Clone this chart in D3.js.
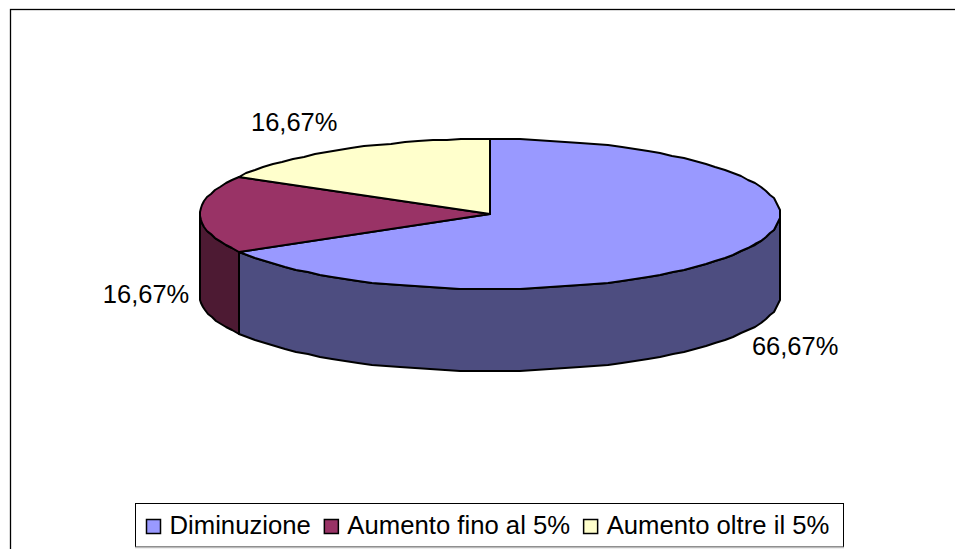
<!DOCTYPE html>
<html>
<head>
<meta charset="utf-8">
<script src="https://cdnjs.cloudflare.com/ajax/libs/d3/7.8.5/d3.min.js"></script>
<style>
    html, body { margin: 0; padding: 0; background: #fff; }
    svg { display: block; }
    text { font-family: "Liberation Sans", Arial, sans-serif; fill: #000; }
</style>
</head>
<body>
<div id="chart"></div>
<script>
var categories = ["Diminuzione", "Aumento fino al 5%", "Aumento oltre il 5%"];
var values = [66.67, 16.67, 16.67];
var valueLabels = ["66,67%", "16,67%", "16,67%"];
var topColors = ["#9999ff", "#993366", "#ffffcc"];
var sideColors = ["#4d4d80", "#4d1a33"];

var width = 955, height = 549, depth = 82;
var labelSize = 25.5, legendSize = 25.7;

var svg = d3.select("#chart").append("svg")
    .attr("width", width)
    .attr("height", height);

// chart frame, cut by the bottom and right of the picture
svg.append("rect")
    .attr("x", 10.5).attr("y", 9.5)
    .attr("width", width + 20).attr("height", height + 20)
    .attr("fill", "#fff").attr("stroke", "#000").attr("stroke-width", 1.3);

// the flat ellipse of the pie
var x = d3.scaleLinear().domain([-1, 1]).range([200, 780]);
var y = d3.scaleLinear().domain([-1, 1]).range([139, 289]);

function px(a, r) { return x(Math.sin(a) * r); }
function py(a, r) { return y(-Math.cos(a) * r); }

var slices = d3.pie().sort(null)(values);

var line = d3.line()
    .x(function (d) { return d[0]; })
    .y(function (d) { return d[1]; });

// points along the rim, rounded so the edge steps like the original
function rim(a0, a1, drop) {
    var n = Math.max(2, Math.ceil((a1 - a0) / (Math.PI / 60)));
    return d3.range(n + 1).map(function (i) {
        var a = a0 + (a1 - a0) * i / n;
        return [Math.round(px(a, 1)), Math.round(py(a, 1)) + drop];
    });
}

// outer wall, only the front half of the pie shows
var frontStart = Math.PI / 2, frontEnd = Math.PI * 3 / 2;
slices.forEach(function (s, i) {
    var a0 = Math.max(s.startAngle, frontStart);
    var a1 = Math.min(s.endAngle, frontEnd);
    if (a1 <= a0) return;
    var pts = rim(a0, a1, 0).concat(rim(a0, a1, depth).reverse());
    svg.append("path")
        .attr("d", line(pts) + "Z")
        .attr("fill", sideColors[i])
        .attr("stroke", "#000")
        .attr("stroke-width", 2)
        .attr("stroke-linejoin", "round");
});

// top faces
slices.forEach(function (s, i) {
    var pts = [[x(0), y(0)]].concat(rim(s.startAngle, s.endAngle, 0));
    svg.append("path")
        .attr("d", line(pts) + "Z")
        .attr("fill", topColors[i])
        .attr("stroke", "#000")
        .attr("stroke-width", 2)
        .attr("stroke-linejoin", "round");
});

// value labels
var labelOut = [[1.215, 1.33, 1], [1.186, 0, 0.98], [1.35, 1.42, 0]];
slices.forEach(function (s, i) {
    var a = (s.startAngle + s.endAngle) / 2;
    svg.append("text")
        .attr("x", px(a, labelOut[i][0]))
        .attr("y", py(a, labelOut[i][1]) + labelOut[i][2] * depth)
        .attr("dy", "0.35em")
        .attr("text-anchor", "middle")
        .style("font-size", labelSize + "px")
        .text(valueLabels[i]);
});

// legend
var legend = svg.append("g");
legend.append("rect")
    .attr("x", 135.5).attr("y", 503.5)
    .attr("width", 708).attr("height", 43.5)
    .attr("fill", "#fff").attr("stroke", "#000").attr("stroke-width", 1);
legend.append("line")
    .attr("x1", 135).attr("x2", 844)
    .attr("y1", 547.5).attr("y2", 547.5)
    .attr("stroke", "#bbb").attr("stroke-width", 1.5);

var legendX = 146;
categories.forEach(function (c, i) {
    legend.append("rect")
        .attr("x", legendX + 0.5).attr("y", 519.5)
        .attr("width", 14).attr("height", 14)
        .attr("fill", topColors[i])
        .attr("stroke", "#000").attr("stroke-width", 1.5);
    var t = legend.append("text")
        .attr("x", legendX + 23.5)
        .attr("y", 525)
        .attr("dy", "0.35em")
        .style("font-size", legendSize + "px")
        .text(c);
    legendX += 23.5 + t.node().getComputedTextLength() + 13;
});
</script>
</body>
</html>
